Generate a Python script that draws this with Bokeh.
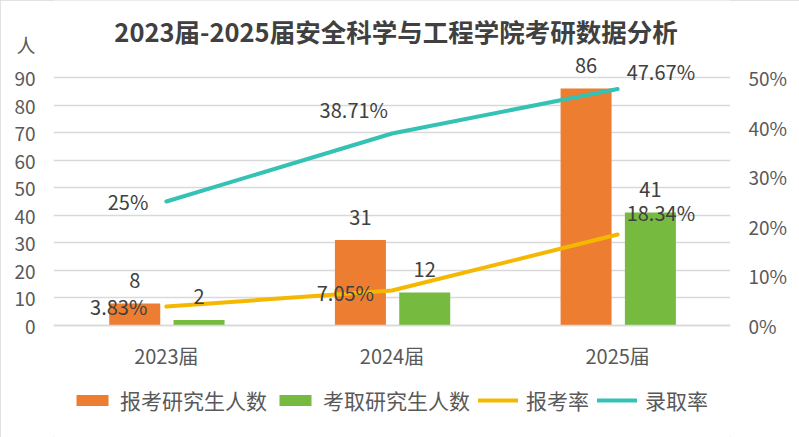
from bokeh.plotting import figure
from bokeh.models import (ColumnDataSource, FactorRange, Range1d, LinearAxis, FixedTicker,
                          NumeralTickFormatter, Legend, LegendItem, Label)
from bokeh.transform import dodge
from bokeh.core.properties import value
from bokeh.embed import file_html
from bokeh.resources import INLINE

# ---- data ----
categories = ["2023届", "2024届", "2025届"]
applied = [8, 31, 86]
admitted = [2, 12, 41]
apply_rate = [0.0383, 0.0705, 0.1834]
admit_rate = [0.25, 0.3871, 0.4767]
apply_rate_labels = ["3.83%", "7.05%", "18.34%"]
admit_rate_labels = ["25%", "38.71%", "47.67%"]
left_ticks = [0, 10, 20, 30, 40, 50, 60, 70, 80, 90]
right_ticks = [0.0, 0.1, 0.2, 0.3, 0.4, 0.5]
series_names = ["报考研究生人数", "考取研究生人数", "报考率", "录取率"]
title_text = "2023届-2025届安全科学与工程学院考研数据分析"
unit_text = "人"

# ---- styles / layout ----
FONT = "Noto Sans CJK SC"
C_ORANGE = "#ED7D31"
C_GREEN = "#76BB40"
C_YELLOW = "#F5B800"
C_TEAL = "#33C2B3"
C_TEXT = "#404040"
C_TICK = "#595959"
C_GRID = "#D9D9D9"

W, H = 799, 437
ZERO_PX, TOP_TICK_PX = 325, 77            # pixel rows of the 0 and 90 gridlines
PX = (ZERO_PX - TOP_TICK_PX) / 90.0      # pixels per person
Y_END = ZERO_PX / PX
Y_START = -(H - ZERO_PX) / PX
RATE_PER_UNIT = 0.5 / 90
UNIT_TICK = 102                           # axis position used for the unit label

p = figure(width=W, height=H, x_range=FactorRange(*categories),
           y_range=Range1d(Y_START, Y_END), output_backend="svg", toolbar_location=None,
           min_border_left=53, min_border_right=69, min_border_top=0, min_border_bottom=0)
p.extra_y_ranges = {"rate": Range1d(Y_START * RATE_PER_UNIT, Y_END * RATE_PER_UNIT)}
p.outline_line_color = None
p.background_fill_color = "white"
p.border_fill_color = "white"
p.styles = {"outline": "2px solid #D9D9D9", "outline-offset": "-2px"}

src = ColumnDataSource(dict(cat=categories, applied=applied, admitted=admitted,
                            apply_rate=apply_rate, admit_rate=admit_rate,
                            applied_txt=[str(v) for v in applied],
                            admitted_txt=[str(v) for v in admitted]))

r_b1 = p.vbar(x=dodge("cat", -0.14, range=p.x_range), top="applied", width=0.226, source=src,
              fill_color=C_ORANGE, line_color=None)
r_b2 = p.vbar(x=dodge("cat", 0.145, range=p.x_range), top="admitted", width=0.226, source=src,
              fill_color=C_GREEN, line_color=None)
r_l1 = p.line(x="cat", y="apply_rate", source=src, y_range_name="rate",
              line_color=C_YELLOW, line_width=4, line_cap="round", line_join="round")
r_l2 = p.line(x="cat", y="admit_rate", source=src, y_range_name="rate",
              line_color=C_TEAL, line_width=4, line_cap="round", line_join="round")

# bar value labels
lbl = dict(text_font=value(FONT), text_font_size="20px", text_color=C_TEXT,
           text_align="center", text_baseline="middle")
p.text(x=dodge("cat", -0.14, range=p.x_range), y="applied", text="applied_txt", source=src,
       y_offset=-23, **lbl)
p.text(x=dodge("cat", 0.145, range=p.x_range), y="admitted", text="admitted_txt", source=src,
       y_offset=-23, **lbl)

# rate labels (first two to the left of the point, last to the right)
dx_apply = [-19, -18, 9]
dy_apply = [0, 2, -22]
dx_admit = [-18, -4, 9]
dy_admit = [0, -24, -18]
aligns = ["right", "right", "left"]
for i in range(len(categories)):
    for yv, txt, dx, dy in ((apply_rate[i], apply_rate_labels[i], dx_apply[i], dy_apply[i]),
                            (admit_rate[i], admit_rate_labels[i], dx_admit[i], dy_admit[i])):
        s = ColumnDataSource(dict(x=[categories[i]], y=[yv], t=[txt]))
        p.text(x="x", y="y", text="t", source=s, y_range_name="rate",
               x_offset=dx, y_offset=dy, text_font=value(FONT), text_font_size="20px",
               text_color=C_TEXT, text_align=aligns[i], text_baseline="middle")

# axes
p.yaxis.ticker = FixedTicker(ticks=left_ticks + [UNIT_TICK])
p.yaxis.major_label_overrides = {UNIT_TICK: unit_text}
p.ygrid.ticker = FixedTicker(ticks=left_ticks)
p.ygrid.grid_line_color = C_GRID
p.ygrid.grid_line_width = 1.5
p.xgrid.grid_line_color = None
for ax in (p.yaxis[0], p.xaxis[0]):
    ax.major_tick_line_color = None
    ax.minor_tick_line_color = None
    ax.major_label_text_font = FONT
    ax.major_label_text_color = C_TICK
p.yaxis.major_label_text_font_size = "19px"
p.xaxis.major_label_text_font_size = "20px"
p.yaxis.axis_line_color = None
p.yaxis.major_label_standoff = 12
p.xaxis.fixed_location = 0
p.xaxis.axis_line_color = C_GRID
p.xaxis.axis_line_width = 1.5
p.xaxis.major_label_standoff = 9

ra = LinearAxis(y_range_name="rate", ticker=FixedTicker(ticks=right_ticks),
                formatter=NumeralTickFormatter(format="0%"))
ra.axis_line_color = None
ra.major_tick_line_color = None
ra.minor_tick_line_color = None
ra.major_label_text_font = FONT
ra.major_label_text_font_size = "19px"
ra.major_label_text_color = C_TICK
ra.major_label_standoff = 12
p.add_layout(ra, "right")

# title (inside the frame area, top of the chart)
p.add_layout(Label(x=1.5, y=(ZERO_PX - 30) / PX, x_offset=4, text=title_text,
                   text_font=FONT, text_font_size="25.5px", text_font_style="bold",
                   text_color=C_TEXT, text_align="center", text_baseline="middle"))

legend = Legend(items=[LegendItem(label=series_names[0], renderers=[r_b1]),
                       LegendItem(label=series_names[1], renderers=[r_b2]),
                       LegendItem(label=series_names[2], renderers=[r_l1]),
                       LegendItem(label=series_names[3], renderers=[r_l2])],
                orientation="horizontal", location=(19, 22),
                glyph_width=40, glyph_height=14, label_standoff=8, spacing=8,
                padding=0, margin=0, border_line_color=None, background_fill_alpha=0,
                label_text_font=FONT, label_text_font_size="21px", label_text_color=C_TICK,
                label_height=24)
p.add_layout(legend, "center")

open("out.html", "w").write(file_html(p, INLINE))
